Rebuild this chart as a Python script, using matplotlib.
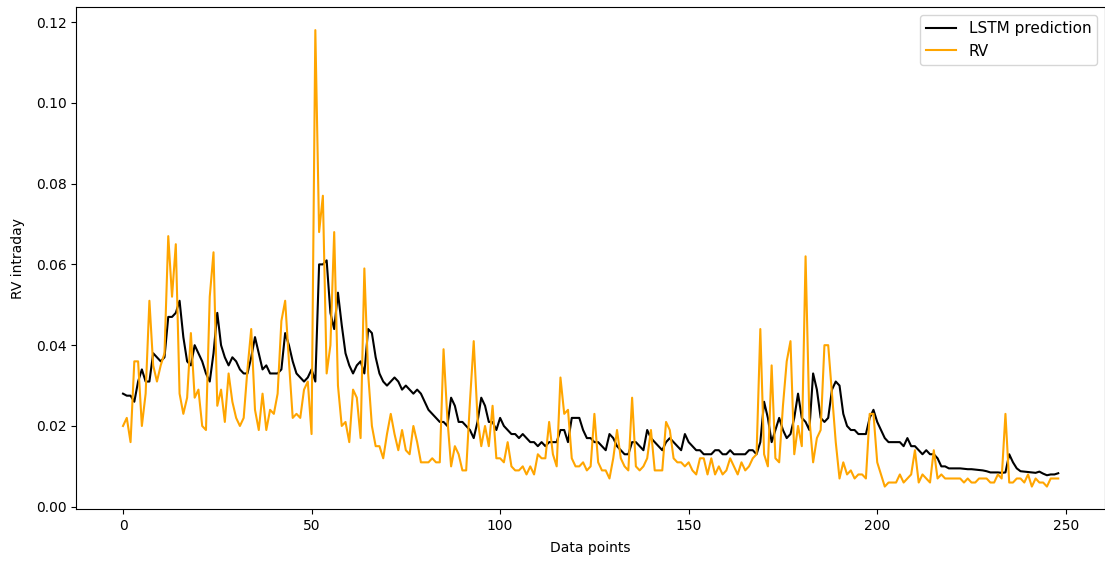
import matplotlib
matplotlib.use("Agg")
import matplotlib.pyplot as plt
import numpy as np

rv = [0.020, 0.022, 0.016, 0.036, 0.036, 0.020, 0.028, 0.051, 0.035, 0.031,
      0.035, 0.038, 0.067, 0.052, 0.065, 0.028, 0.023, 0.027, 0.043, 0.027,
      0.029, 0.020, 0.019, 0.052, 0.063, 0.025, 0.029, 0.021, 0.033, 0.026,
      0.022, 0.020, 0.022, 0.034, 0.044, 0.024, 0.019, 0.028, 0.019, 0.024,
      0.023, 0.028, 0.046, 0.051, 0.036, 0.022, 0.023, 0.022, 0.029, 0.031,
      0.018, 0.118, 0.068, 0.077, 0.033, 0.040, 0.068, 0.030, 0.020, 0.021,
      0.016, 0.029, 0.027, 0.017, 0.059, 0.033, 0.020, 0.015, 0.015, 0.012,
      0.018, 0.023, 0.018, 0.014, 0.019, 0.014, 0.013, 0.020, 0.016,
      0.011, 0.011, 0.011, 0.012, 0.011, 0.011, 0.039, 0.022, 0.010, 0.015,
      0.013, 0.009, 0.009, 0.026, 0.041, 0.022, 0.015, 0.020, 0.015, 0.025,
      0.012, 0.012, 0.011, 0.016, 0.010, 0.009, 0.009, 0.010, 0.008, 0.010,
      0.008, 0.013, 0.012, 0.012, 0.021, 0.013, 0.010, 0.032, 0.023, 0.024,
      0.012, 0.010, 0.010, 0.011, 0.009, 0.010, 0.023, 0.011, 0.009, 0.009,
      0.007, 0.012, 0.019, 0.012, 0.010, 0.009, 0.027, 0.010, 0.009, 0.010,
      0.012, 0.019, 0.009, 0.009, 0.009, 0.021, 0.019, 0.012, 0.011, 0.011,
      0.010, 0.011, 0.009, 0.008, 0.012, 0.012, 0.008, 0.012, 0.008,
      0.010, 0.008, 0.009, 0.012, 0.010, 0.008, 0.011, 0.009, 0.010, 0.012,
      0.013, 0.044, 0.013, 0.010, 0.035, 0.012, 0.011, 0.025, 0.036, 0.041,
      0.013, 0.020, 0.015, 0.062, 0.022, 0.011, 0.017, 0.019, 0.040, 0.040,
      0.028, 0.016, 0.007, 0.011, 0.008, 0.009, 0.007, 0.008, 0.008, 0.007,
      0.023, 0.023, 0.011, 0.008, 0.005, 0.006, 0.006, 0.006, 0.008, 0.006,
      0.007, 0.008, 0.014, 0.006, 0.008, 0.007, 0.006, 0.014, 0.007, 0.008,
      0.007, 0.007, 0.007, 0.007, 0.007, 0.006, 0.007, 0.006, 0.006, 0.007,
      0.007, 0.007, 0.006, 0.006, 0.008, 0.007, 0.023, 0.006, 0.006, 0.007,
      0.007, 0.006, 0.008, 0.005, 0.007, 0.006, 0.006, 0.005, 0.007,
      0.007, 0.007]

lstm = [0.028, 0.0275, 0.0275, 0.026, 0.031, 0.034, 0.031, 0.031, 0.038, 0.037,
        0.036, 0.037, 0.047, 0.047, 0.048, 0.051, 0.042, 0.036, 0.035, 0.040,
        0.038, 0.036, 0.033, 0.031, 0.038, 0.048, 0.040, 0.037, 0.035, 0.037,
        0.036, 0.034, 0.033, 0.033, 0.037, 0.042, 0.038, 0.034, 0.035, 0.033,
        0.033, 0.033, 0.034, 0.043, 0.040, 0.036, 0.033, 0.032, 0.031, 0.032,
        0.034, 0.031, 0.060, 0.060, 0.061, 0.048, 0.044, 0.053, 0.045, 0.038,
        0.035, 0.033, 0.035, 0.036, 0.033, 0.044, 0.043, 0.037, 0.033, 0.031,
        0.030, 0.031, 0.032, 0.031, 0.029, 0.030, 0.029, 0.028, 0.029,
        0.028, 0.026, 0.024, 0.023, 0.022, 0.021, 0.021, 0.020, 0.027, 0.025,
        0.021, 0.021, 0.020, 0.019, 0.017, 0.021, 0.027, 0.025, 0.021, 0.021,
        0.019, 0.022, 0.020, 0.019, 0.018, 0.018, 0.017, 0.018, 0.017, 0.016,
        0.016, 0.015, 0.016, 0.015, 0.016, 0.016, 0.016, 0.019, 0.019, 0.016,
        0.022, 0.022, 0.022, 0.019, 0.017, 0.017, 0.016, 0.016, 0.015, 0.014,
        0.018, 0.017, 0.015, 0.014, 0.013, 0.013, 0.016, 0.016, 0.015, 0.014,
        0.019, 0.017, 0.016, 0.015, 0.014, 0.016, 0.017, 0.016, 0.015, 0.014,
        0.018, 0.016, 0.015, 0.014, 0.014, 0.013, 0.013, 0.013, 0.014,
        0.014, 0.013, 0.013, 0.014, 0.013, 0.013, 0.013, 0.013, 0.014, 0.014,
        0.013, 0.016, 0.026, 0.022, 0.016, 0.019, 0.022, 0.019, 0.017, 0.018,
        0.022, 0.028, 0.022, 0.021, 0.019, 0.033, 0.029, 0.022, 0.021, 0.022,
        0.029, 0.031, 0.030, 0.023, 0.020, 0.019, 0.019, 0.018, 0.018, 0.018,
        0.022, 0.024, 0.021, 0.019, 0.017, 0.016, 0.016, 0.016, 0.016, 0.015,
        0.017, 0.015, 0.015, 0.014, 0.013, 0.014, 0.013, 0.013, 0.012, 0.010,
        0.010, 0.0095, 0.0095, 0.0095, 0.0095, 0.0094, 0.0093, 0.0093, 0.0092, 0.0091,
        0.0090, 0.0088, 0.0085, 0.0085, 0.0085, 0.0084, 0.0085, 0.013, 0.011, 0.0095,
        0.0088, 0.0087, 0.0086, 0.0085, 0.0084, 0.0087, 0.0082, 0.0078, 0.0080,
        0.0080, 0.0083]

x = np.arange(len(rv))

fig = plt.figure(figsize=(11.05, 5.61), dpi=100)
ax = fig.add_axes([0.069, 0.092, 0.931, 0.895])
ax.plot(x, lstm, color="black", label="LSTM prediction")
ax.plot(x, rv, color="orange", label="RV")
ax.set_xlabel("Data points", labelpad=6)
ax.set_ylabel("RV intraday", labelpad=8)
ax.legend(loc="upper right", fontsize=11)
fig.savefig("out.png", dpi=100)
